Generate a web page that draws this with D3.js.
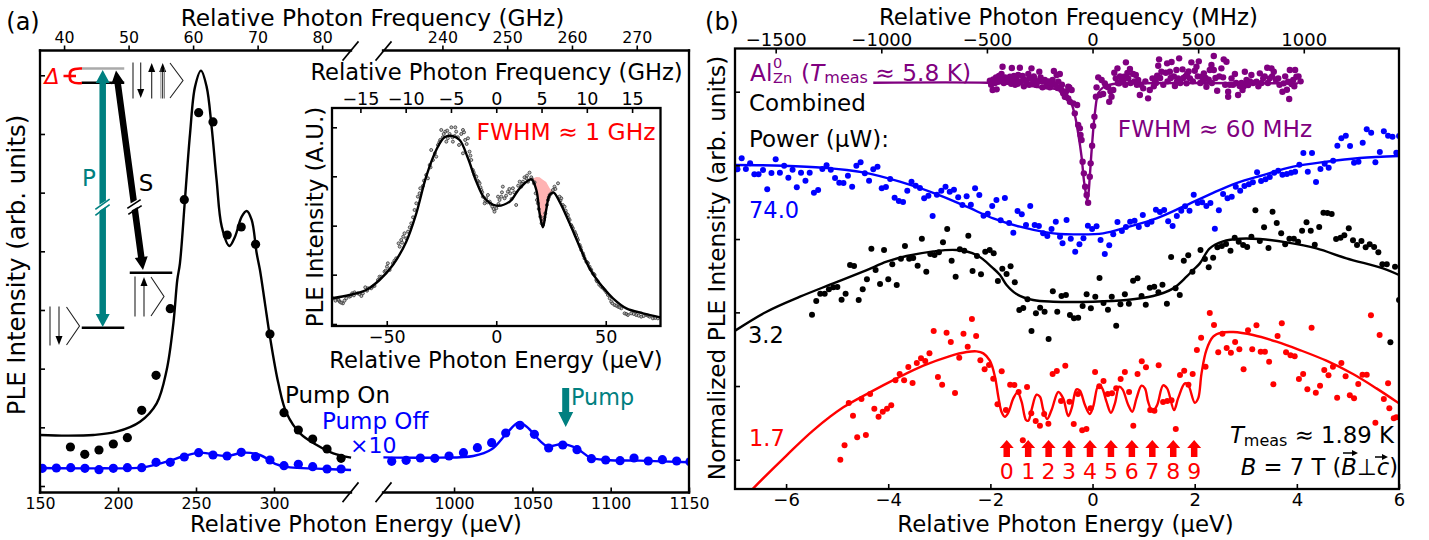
<!DOCTYPE html>
<html>
<head>
<meta charset="utf-8">
<script src="https://cdn.jsdelivr.net/npm/d3@7"></script>
<style>
  body { margin: 0; background: #fff; }
  text { font-family: "DejaVu Sans", sans-serif; fill: #000; }
</style>
</head>
<body>
<svg id="chart" width="1429" height="540"></svg>
<script>
// ueV per GHz
var hOverE = 4.1357;

// panel (a), energies in ueV, intensity in arb. units
var aTicksLeft = [150, 200, 250, 300];
var aTicksRight = [1000, 1050, 1100, 1150];
var aFreqLeft = [40, 50, 60, 70, 80];
var aFreqRight = [240, 250, 260, 270];
var aTicksY = [0, 176, 352, 528, 704, 880, 1056, 1232];
var pumpOnPoints = [[169.5,117],[178.7,95],[187.8,108],[197,126],[206,145],[215.2,227],[224.4,332],[233.5,532],[242.5,859],[251.7,1120],[260.9,1092],[270,753],[279,777],[288.2,725],[297.4,456],[306.4,220],[315.6,168],[324.8,141],[334,111],[343,83]];
var pumpOnCurve = [[150,153],[167.1,151],[184.2,153],[199.1,163],[214.1,193],[224.8,248],[231.2,348],[235.5,488],[238,618],[239.7,668],[242.9,858],[246.2,1058],[249.4,1198],[253.2,1246],[256.8,1198],[260,1078],[263.2,918],[266.5,778],[271.4,720],[275,748],[279.3,808],[282.5,825],[285.7,798],[288.9,698],[291,648],[294.2,548],[297.4,448],[302.8,308],[308.1,218],[316.7,158],[327.4,123],[338,98],[349.4,85]];
var pumpOffPointsLeft = [[151.5,53],[160.5,54],[169.7,55],[178.8,53],[187.8,49],[197,53],[206,55],[215.2,55],[224.4,71],[233.5,71],[242.5,87],[251.7,100],[260.9,93],[269.9,90],[279,101],[288.2,88],[297.4,78],[306.4,61],[315.6,65],[324.8,58],[334,51],[343,51]];
var pumpOffCurveLeft = [[150,54],[188.5,53],[216.2,56],[231.2,73],[242.5,90],[252.6,100],[269.7,90],[280.3,100],[291,93],[301.7,65],[310.3,56],[327.4,52],[349.4,48]];
var pumpOffPointsRight = [[960.2,74],[969.4,77],[978.5,84],[987.7,83],[996.8,90],[1006,100],[1014.9,115],[1024,130],[1033,159],[1042.1,182],[1051.3,155],[1060.4,114],[1069.4,123],[1078.5,109],[1087.7,82],[1096.8,78],[1106,76],[1114.9,84],[1124,75],[1133,79],[1142.1,75],[1150.6,73]];
var pumpOffCurveRight = [[954.9,86],[991,85],[1012.3,90],[1024,110],[1033.6,158],[1041.1,190],[1046.4,178],[1059.1,120],[1069.4,126],[1078.3,113],[1086.8,86],[1097.4,78],[1118.7,76],[1150.6,71]];

// inset of (a)
var inTicksX = [-50, 0, 50];
var inFreq = [-15, -10, -5, 0, 5, 10, 15];
var inTicksY = [0, 148, 295, 443, 590];
var inCurve = [[-75,77],[-67,87],[-59.4,102],[-53.3,132],[-47.2,177],[-41.1,247],[-36.5,332],[-32,442],[-27.4,522],[-23.6,560],[-20.1,564],[-16.7,552],[-12.9,497],[-9.1,427],[-5.3,377],[0,355],[6.1,367],[10.7,407],[16,434],[18.3,402],[19.8,332],[21.3,290],[22.8,342],[24.4,387],[26.2,394],[28.9,367],[33.5,302],[38.1,232],[42.6,167],[47.2,122],[53.3,77],[59.4,47],[67,32],[74.9,20]];
var inShadeE = [16, 18.3, 19.8, 21.3, 22.8, 24.4, 26.2];
var inShadeTop = [434, 441, 440, 433, 426, 407, 394];
var inShadeBottom = [434, 402, 332, 290, 342, 387, 394];
var inPoints = [[-74.6,77],[-73.4,70],[-72.3,74],[-71.5,67],[-70,62],[-69.3,70],[-68.5,77],[-67,82],[-65.8,92],[-64.7,95],[-63.2,92],[-61.6,84],[-60.9,92],[-59.8,110],[-58.6,107],[-57.1,107],[-55.6,114],[-54,132],[-53.3,142],[-52.5,142],[-51,157],[-49.9,172],[-49.5,182],[-48.7,162],[-47.2,182],[-45.7,197],[-44.6,242],[-44.1,232],[-43.4,252],[-41.9,272],[-41.1,257],[-40.3,277],[-38.8,302],[-37.3,342],[-36.5,362],[-35.8,382],[-34.7,407],[-33.5,414],[-32,447],[-31.2,437],[-30.4,477],[-29.7,522],[-28.9,492],[-27.4,502],[-26.6,537],[-25.6,552],[-25.1,582],[-24.4,560],[-23.3,577],[-22.8,547],[-22.1,557],[-21.3,570],[-20.5,590],[-19.8,547],[-19,564],[-18.3,577],[-17.5,560],[-17,537],[-15.2,582],[-14.2,552],[-12.9,557],[-15.2,512],[-12.2,517],[-11.4,492],[-10.7,462],[-9.9,447],[-9.1,442],[-8.1,427],[-7.6,422],[-6.8,402],[-6.1,382],[-5.3,362],[-4.6,377],[-3.8,387],[-3,367],[-1.8,352],[-0.8,337],[0,347],[0.8,382],[1.5,372],[2.3,382],[3,412],[3.8,377],[5.3,397],[6.4,392],[7.6,407],[9.1,357],[10.7,427],[11.4,412],[12.2,427],[13.7,437],[14.5,427],[15.2,454],[16.3,434],[17.2,422],[18,392],[18.6,372],[19,362],[20.1,322],[20.7,302],[21.3,297],[21.8,312],[22.4,332],[23.1,357],[23.6,372],[24.4,387],[25.1,392],[25.9,402],[26.6,412],[28.2,422],[28.9,382],[29.7,377],[30.4,357],[31.2,352],[32,332],[32.7,327],[33.5,312],[34.2,297],[35,287],[35.8,277],[36.5,267],[37.3,252],[38.1,237],[38.8,222],[39.6,212],[40.3,197],[41.1,187],[41.9,182],[42.6,172],[43.4,162],[44.1,152],[44.9,147],[45.7,132],[46.4,127],[47.9,112],[49.5,102],[51,87],[51.8,77],[52.5,67],[54,57],[55.6,52],[57.1,47],[58.6,32],[60.1,27],[61.6,32],[63.9,27],[66.2,22],[68.5,27],[70,22],[71.5,17],[73.8,17],
  [-72,72],[-70.8,64],[-66.5,84],[-65,86],[-62.5,90],[-59,100],[-56.5,112],[-50.5,160],[-46.5,190],[-43,244],[-42.5,262],[-39.5,290],[-38,320],[-35,392],[-33,430],[-30,470],[-28,512],[-26,545],[-24,570],[-22.4,580],[-20,560],[-18.7,590],[-16,570],[-14.7,575],[-13.5,540],[-11.8,505],[-10.3,455],[-8.6,430],[-7.2,410],[-6.4,395],[-5,370],[-4,365],[-2.5,360],[-1.2,345],[1,360],[2.6,395],[4.5,385],[6,405],[7,375],[8.2,395],[10,415],[11.8,420],[12.9,440],[14,445],[16,440],[17.5,425],[19.4,345],[22,320],[24,380],[27,405],[29.3,370],[31.7,340],[33,318],[34.6,292],[36,272],[37,258],[38.5,230],[39.9,205],[41.5,185],[43,165],[44.5,150],[46,128],[47,118],[48.7,108],[50.3,95],[53,62],[54.8,55],[56.3,50],[59.4,30],[62.8,30],[65,25],[67.3,24],[69.3,25],[72.6,18]];

// panel (b), frequency in MHz, intensity in arb. units
var bTicksE = [-6, -4, -2, 0, 2, 4, 6];
var bTicksF = [-1500, -1000, -500, 0, 500, 1000];
var bTicksY = [0, 221, 442, 662, 883, 1104];
var redPoints = [[-1194,0],[-1174,43],[-1154,170],[-1134,132],[-1114,67],[-1094,182],[-1073,74],[-1053,197],[-1033,153],[-1013,129],[-993,144],[-973,153],[-953,163],[-933,238],[-913,257],[-892,238],[-872,278],[-852,230],[-832,290],[-812,304],[-792,296],[-772,319],[-752,386],[-732,248],[-712,225],[-691,381],[-671,353],[-651,200],[-631,306],[-611,378],[-591,339],[-571,422],[-551,371],[-531,298],[-511,271],[-490,284],[-470,243],[-450,166],[-430,265],[-410,149],[-390,225],[-370,224],[-350,203],[-330,58],[-310,218],[-290,139],[-269,116],[-249,102],[-229,137],[-209,108],[-189,257],[-169,266],[-149,176],[-129,282],[-109,174],[-89,107],[-69,197],[-49,88],[-29,92],[-9,154],[12,263],[32,220],[52,236],[72,197],[92,199],[112,214],[133,242],[153,263],[173,203],[193,102],[213,257],[233,295],[253,277],[273,149],[293,147],[313,283],[334,173],[354,176],[374,178],[394,92],[414,254],[434,267],[454,225],[474,257],[494,329],[514,366],[535,279],[555,440],[575,404],[595,322],[615,378],[635,335],[655,321],[675,353],[695,331],[715,271],[736,388],[756,331],[776,403],[796,324],[816,324],[836,294],[856,226],[876,371],[896,409],[916,322],[937,313],[957,310],[977,242],[997,257],[1017,211],[1037,396],[1057,201],[1077,222],[1097,269],[1117,253],[1138,279],[1158,186],[1178,290],[1198,250],[1218,193],[1238,184],[1258,227],[1278,255],[1298,255],[1318,433],[1339,111],[1359,374],[1379,182],[1399,229],[1405,154],[1426,124],[1438,127]];
var redCurve = [[-1621,-96],[-1606,-86],[-1448,13],[-1322,88],[-1180,157],[-1054,202],[-927,244],[-801,282],[-675,311],[-596,323],[-549,325],[-517,319],[-486,297],[-462,249],[-446,189],[-431,144],[-415,129],[-399,141],[-375,184],[-355,202],[-336,174],[-315,119],[-304,117],[-289,149],[-265,195],[-249,189],[-233,149],[-215,122],[-194,149],[-162,203],[-139,184],[-115,131],[-99,154],[-76,211],[-60,207],[-36,164],[-13,137],[3,159],[27,221],[43,217],[66,174],[87,141],[106,169],[126,219],[142,211],[169,164],[188,144],[208,184],[232,222],[248,214],[263,174],[284,144],[306,164],[334,223],[353,214],[386,149],[405,184],[437,229],[453,224],[484,171],[500,184],[516,259],[539,329],[571,369],[610,381],[666,383],[760,374],[871,354],[981,329],[1107,297],[1233,257],[1344,214],[1451,169]];
var bluePoints = [[-1681,871],[-1661,904],[-1641,872],[-1621,889],[-1601,856],[-1581,856],[-1560,869],[-1540,811],[-1520,860],[-1500,901],[-1480,861],[-1460,882],[-1440,846],[-1420,870],[-1400,817],[-1380,861],[-1359,837],[-1339,861],[-1319,801],[-1299,809],[-1279,872],[-1259,883],[-1239,870],[-1219,845],[-1199,831],[-1179,830],[-1158,852],[-1138,819],[-1118,882],[-1098,892],[-1078,859],[-1058,837],[-1038,871],[-1018,879],[-998,814],[-978,818],[-958,842],[-937,786],[-917,776],[-897,773],[-877,807],[-857,834],[-837,822],[-817,815],[-797,784],[-777,792],[-757,731],[-737,795],[-716,807],[-696,819],[-676,804],[-656,810],[-636,787],[-616,764],[-596,790],[-576,765],[-556,814],[-536,794],[-516,732],[-496,738],[-475,761],[-455,779],[-435,718],[-415,785],[-395,710],[-375,681],[-355,746],[-335,736],[-315,704],[-295,761],[-274,704],[-254,701],[-234,679],[-214,671],[-194,692],[-174,714],[-154,669],[-142,649],[-123,719],[-103,663],[-82,624],[-62,646],[-43,664],[-22,702],[-2,692],[19,700],[38,659],[58,617],[79,643],[98,676],[118,713],[139,686],[158,698],[178,714],[199,717],[219,698],[238,734],[259,706],[279,714],[300,750],[319,743],[339,749],[358,715],[379,701],[399,731],[420,747],[438,760],[459,747],[479,795],[498,770],[519,772],[539,761],[558,770],[579,693],[598,748],[618,797],[639,784],[659,789],[678,819],[699,807],[719,821],[740,826],[759,832],[779,862],[798,836],[819,841],[839,848],[860,861],[879,867],[899,855],[920,857],[940,861],[959,864],[979,885],[998,920],[1019,864],[1039,920],[1058,833],[1079,872],[1099,888],[1118,876],[1139,897],[1159,942],[1178,964],[1199,972],[1219,941],[1238,891],[1259,894],[1279,951],[1298,991],[1319,981],[1339,892],[1360,923],[1379,985],[1399,972],[1420,969],[1438,921],[1451,971]];
var blueCurve = [[-1692,884],[-1464,882],[-1274,876],[-1085,862],[-912,834],[-738,797],[-596,759],[-470,724],[-344,699],[-218,682],[-155,677],[-76,676],[50,679],[161,697],[303,724],[429,759],[555,796],[681,830],[808,854],[950,879],[1107,894],[1265,905],[1451,911]];
var blackPoints = [[-1328,435],[-1308,476],[-1289,498],[-1268,498],[-1248,511],[-1227,517],[-1208,518],[-1188,480],[-1169,498],[-1148,584],[-1129,581],[-1107,479],[-1088,511],[-1068,541],[-1047,633],[-1027,569],[-1006,527],[-987,629],[-967,541],[-948,586],[-927,524],[-907,603],[-888,641],[-868,603],[-849,605],[-828,582],[-808,663],[-787,564],[-768,617],[-748,614],[-727,622],[-708,652],[-688,692],[-667,597],[-648,549],[-628,631],[-607,627],[-588,672],[-568,566],[-547,611],[-528,556],[-508,624],[-487,629],[-468,619],[-448,536],[-427,573],[-407,557],[-388,580],[-368,532],[-347,449],[-328,455],[-308,481],[-289,386],[-268,439],[-248,456],[-227,444],[-208,362],[-188,505],[-167,444],[-147,491],[-126,494],[-107,434],[-88,424],[-68,426],[-47,461],[-28,496],[-8,454],[13,489],[33,545],[52,470],[73,450],[91,489],[112,402],[132,466],[153,496],[172,468],[192,537],[213,544],[232,491],[252,465],[271,516],[292,519],[312,502],[331,525],[352,468],[372,608],[393,514],[413,494],[432,597],[453,613],[473,564],[511,629],[532,602],[550,577],[571,606],[591,637],[612,641],[632,647],[653,627],[673,666],[692,654],[713,644],[732,638],[752,669],[771,748],[792,656],[812,697],[833,635],[852,744],[872,710],[893,679],[912,646],[932,663],[953,663],[973,654],[992,687],[1013,712],[1033,687],[1052,645],[1073,698],[1093,741],[1112,740],[1132,737],[1153,662],[1174,666],[1192,673],[1213,694],[1233,658],[1252,644],[1273,656],[1293,637],[1312,646],[1333,638],[1353,622],[1372,586],[1393,586],[1410,352],[1432,579],[1451,479]];
var blackCurve = [[-1692,387],[-1543,444],[-1385,489],[-1227,529],[-1069,569],[-975,594],[-880,611],[-754,625],[-644,629],[-549,614],[-470,574],[-438,554],[-407,524],[-360,497],[-281,479],[-186,474],[3,474],[161,479],[287,491],[382,514],[445,549],[476,569],[508,589],[555,634],[618,655],[697,663],[792,662],[918,652],[1060,634],[1202,604],[1375,574],[1451,554]];
var purplePoints = [[-473,1109],[-454,1111],[-486,1137],[-470,1141],[-457,1147],[-443,1151],[-426,1179],[-431,1157],[-415,1147],[-404,1134],[-382,1175],[-391,1149],[-372,1151],[-352,1154],[-344,1176],[-360,1139],[-331,1151],[-320,1139],[-304,1157],[-289,1174],[-297,1144],[-273,1139],[-265,1124],[-252,1164],[-246,1147],[-237,1117],[-226,1139],[-215,1129],[-202,1117],[-183,1166],[-189,1139],[-170,1154],[-162,1134],[-155,1114],[-139,1099],[-126,1089],[-115,1119],[-107,1074],[-155,1157],[-147,1109],[-131,1089],[-110,1117],[-99,1109],[-115,1084],[-91,1069],[-84,1039],[-73,1064],[-68,1004],[-60,994],[-57,974],[-52,959],[-47,894],[-41,859],[-35,819],[-28,794],[-21,771],[-13,849],[-9,889],[-2,942],[3,1001],[9,1029],[16,1089],[19,1117],[27,1147],[43,1139],[35,1094],[58,1129],[50,1097],[74,1117],[79,1074],[90,1089],[98,1109],[103,1161],[118,1174],[110,1144],[126,1129],[137,1139],[158,1192],[148,1149],[177,1172],[169,1144],[192,1157],[205,1154],[216,1139],[224,1094],[240,1114],[263,1084],[271,1109],[284,1144],[295,1139],[306,1152],[315,1201],[311,1182],[326,1164],[347,1161],[353,1189],[374,1193],[366,1164],[390,1121],[397,1169],[410,1204],[405,1144],[426,1171],[445,1129],[448,1157],[461,1144],[468,1192],[484,1167],[492,1179],[503,1195],[516,1149],[527,1159],[539,1119],[563,1184],[574,1211],[555,1169],[574,1169],[590,1107],[610,1174],[621,1201],[634,1194],[618,1147],[642,1089],[642,1104],[658,1144],[674,1157],[689,1094],[697,1121],[710,1109],[721,1164],[729,1139],[737,1124],[752,1154],[776,1134],[792,1159],[808,1144],[827,1176],[847,1174],[858,1164],[839,1144],[879,1144],[899,1104],[905,1129],[931,1082],[934,1169],[926,1134],[942,1127],[959,1169],[965,1149],[950,1139],
  [-480,1125],[-462,1130],[-448,1134],[-438,1140],[-420,1130],[-410,1145],[-398,1140],[-385,1128],[-376,1140],[-366,1125],[-355,1128],[-340,1135],[-325,1120],[-312,1130],[-300,1125],[-285,1128],[-278,1150],[-258,1135],[-240,1135],[-220,1120],[-208,1135],[-195,1125],[-178,1125],[-165,1115],[-145,1125],[-125,1105],
  [65,1120],[85,1105],[120,1130],[130,1150],[145,1135],[155,1125],[165,1160],[180,1130],[198,1135],[210,1125],[230,1125],[250,1135],[290,1120],[300,1130],[320,1145],[335,1125],[355,1135],[370,1145],[385,1150],[400,1135],[415,1130],[430,1145],[440,1150],[455,1165],[475,1135],[498,1150],[510,1130],[522,1135],[535,1145],[550,1140],[565,1130],[582,1145],[600,1150],[628,1125],[650,1125],[665,1125],[680,1130],[705,1130],[716,1120],[745,1135],[760,1130],[785,1120],[800,1130],[815,1150],[830,1130],[850,1150],[868,1140],[885,1125],[912,1150],[920,1110],[955,1120],[975,1150],[985,1135]];
var purpleCurve = [[-1038,1131],[-500,1131],[-350,1127],[-250,1117],[-155,1109],[-107,1079],[-84,1034],[-68,979],[-52,909],[-41,839],[-32,800],[-25,778],[-19,800],[-13,849],[-3,939],[11,1039],[27,1099],[50,1117],[98,1127],[161,1129],[973,1129]];
var arrowE = [-1.68, -1.26, -0.86, -0.46, -0.05, 0.36, 0.77, 1.17, 1.58, 1.99];
var arrowLabels = ["0", "1", "2", "3", "4", "5", "6", "7", "8", "9"];

var teal = "#008080", purple = "#800080";
var svg = d3.select("#chart");
var defs = svg.append("defs");
var smooth = d3.curveCatmullRom.alpha(0.5);

function clip(id, x, y, w, h) {
  defs.append("clipPath").attr("id", id).append("rect")
    .attr("x", x).attr("y", y).attr("width", w).attr("height", h);
  return svg.append("g").attr("clip-path", "url(#" + id + ")");
}
function dots(g, data, x, y, r, color) {
  g.selectAll(null).data(data).enter().append("circle")
    .attr("cx", d => x(d[0])).attr("cy", d => y(d[1])).attr("r", r).attr("fill", color);
}
function curve(g, data, x, y, color, w) {
  var line = d3.line().x(d => x(d[0])).y(d => y(d[1])).curve(smooth);
  g.append("path").attr("d", line(data)).attr("fill", "none").attr("stroke", color).attr("stroke-width", w);
}
function label(s, x, y, size, color, anchor, rot) {
  var t = svg.append("text").attr("x", x).attr("y", y).attr("font-size", size)
    .attr("dominant-baseline", "central").attr("text-anchor", anchor || "middle").style("fill", color || "#000").text(s);
  if (rot) t.attr("transform", "rotate(" + rot + " " + x + " " + y + ")");
  return t;
}
function seg(x1, y1, x2, y2, color, w) {
  svg.append("line").attr("x1", x1).attr("y1", y1).attr("x2", x2).attr("y2", y2)
    .attr("stroke", color || "#000").attr("stroke-width", w || 2.3).attr("stroke-linecap", "square");
}
function axis(a, x, y, ticks, fmt, size, pad, font) {
  var minus = d => String(d).replace("-", "\u2212");
  a.tickValues(ticks).tickSize(size).tickPadding(pad).tickFormat(fmt === "" ? "" : minus);
  var g = svg.append("g").attr("transform", "translate(" + x + "," + y + ")").call(a);
  g.select(".domain").remove();
  g.selectAll("line").attr("stroke", "#000").attr("stroke-width", 1.6);
  g.selectAll("text").attr("font-size", font).attr("font-family", "DejaVu Sans");
  return g;
}
// solid block arrow, from x1,y1 to x2,y2 with a head at the end (and at the start if both)
function block(x1, y1, x2, y2, sw, hw, hl, color, both) {
  var dx = x2 - x1, dy = y2 - y1, len = Math.sqrt(dx * dx + dy * dy), ux = dx / len, uy = dy / len, nx = -uy, ny = ux;
  var at = (s, n) => [x1 + ux * s + nx * n, y1 + uy * s + ny * n];
  var pts = both
    ? [at(0,0), at(hl,hw/2), at(hl,sw/2), at(len-hl,sw/2), at(len-hl,hw/2), at(len,0), at(len-hl,-hw/2), at(len-hl,-sw/2), at(hl,-sw/2), at(hl,-hw/2)]
    : [at(0,sw/2), at(len-hl,sw/2), at(len-hl,hw/2), at(len,0), at(len-hl,-hw/2), at(len-hl,-sw/2), at(0,-sw/2)];
  svg.append("polygon").attr("points", pts.map(q => q.join(",")).join(" ")).attr("fill", color);
}

// ---------- panel (a)
var xL = d3.scaleLinear().domain([150, 350]).range([40, 352]);
var xR = d3.scaleLinear().domain([954, 1150]).range([382, 689]);
var yA = d3.scaleLinear().domain([0, 1232]).range([486, 75.3]);
var fL = d3.scaleLinear().domain([150 / hOverE, 350 / hOverE]).range(xL.range());
var fR = d3.scaleLinear().domain([954 / hOverE, 1150 / hOverE]).range(xR.range());

var left = clip("cl", 40, 51, 312, 441);
curve(left, pumpOnCurve, xL, yA, "#000", 2.4);
dots(left, pumpOnPoints, xL, yA, 4.6, "#000");
curve(left, pumpOffCurveLeft, xL, yA, "#0000ff", 2.4);
dots(left, pumpOffPointsLeft, xL, yA, 4.6, "#0000ff");
var right = clip("cr", 382, 51, 307, 441);
curve(right, pumpOffCurveRight, xR, yA, "#0000ff", 2.4);
dots(right, pumpOffPointsRight, xR, yA, 4.6, "#0000ff");

axis(d3.axisBottom(xL), 0, 492.5, aTicksLeft, null, -5, 5, 15.8);
axis(d3.axisBottom(xR), 0, 492.5, aTicksRight, null, -5, 5, 15.8);
axis(d3.axisTop(fL), 0, 50.5, aFreqLeft, null, 5, 3, 15.8);
axis(d3.axisTop(fR), 0, 50.5, aFreqRight, null, 5, 3, 15.8);
axis(d3.axisLeft(yA), 40, 0, aTicksY, "", -5, 0, 1);
seg(40, 50.5, 40, 492.5);
seg(40, 50.5, 351, 50.5);
seg(383, 50.5, 689, 50.5);
seg(40, 492.5, 351, 492.5);
seg(383, 492.5, 689, 492.5);
seg(689, 50.5, 689, 492.5);
seg(343, 60, 358, 42, "#000", 1.6);
seg(376, 60, 391, 42, "#000", 1.6);
seg(343, 501.5, 358, 483, "#000", 1.6);
seg(376, 501.5, 391, 483, "#000", 1.6);

label("(a)", 23, 22, 24);
label("Relative Photon Frequency (GHz)", 372.5, 17, 23.3);
label("Relative Photon Energy (\u03bceV)", 356, 524, 22.6);
label("PLE Intensity (arb. units)", 16, 265, 24.4, "#000", "middle", -90);

// level scheme
seg(83, 68.5, 123, 68.5, "#aaaaaa", 2.5);
seg(83, 82.7, 123, 82.7, "#000", 2.5);
seg(83, 327.7, 123, 327.7, "#000", 2.5);
seg(131, 272.7, 171, 272.7, "#000", 2.5);
block(102.7, 70, 102.7, 327, 6.5, 14, 13, teal, true);
block(116, 70.5, 143, 270, 6.5, 13, 13, "#000", true);
// breaks in the two transitions
svg.append("polygon").attr("points", "94,208 112,197 112,203 94,214").attr("fill", "#fff");
seg(96, 209, 109, 199.5, teal, 1.6);
seg(96, 215, 109, 205, teal, 1.6);
svg.append("polygon").attr("points", "126,206 142,197 143,204 127,213").attr("fill", "#fff");
seg(128, 208, 140, 200, "#000", 1.6);
seg(129, 214, 141, 206, "#000", 1.6);
label("P", 89, 178, 23, teal);
label("S", 146, 183, 23, "#000");
label("\u0394", 52, 76, 22, "#ff0000").style("font-style", "italic");
svg.append("path").attr("d", "M82,68.5 C72,68 69,71 70,76 C69,81 72,84 82,83 M63.5,76 L76,76")
  .attr("fill", "none").attr("stroke", "#ff0000").attr("stroke-width", 2.6);

// kets
function ket(bar, top, bottom, tipX) {
  seg(bar, top, bar, bottom, "#222", 1.1);
  svg.append("polyline").attr("points", [[tipX - 13, top], [tipX, (top + bottom) / 2], [tipX - 13, bottom]].map(q => q.join(",")).join(" "))
    .attr("fill", "none").attr("stroke", "#222").attr("stroke-width", 1.1);
}
function spin(x, from, to, w) {
  var dir = to > from ? 1 : -1;
  seg(x, from, x, to - dir * 6, "#222", w);
  svg.append("polygon").attr("points", [[x - 3.5, to - dir * 9], [x + 3.5, to - dir * 9], [x, to]].map(q => q.join(",")).join(" ")).attr("fill", "#000");
}
ket(133, 63, 98, 183);
spin(140.7, 63, 98, 1.1);
spin(151.7, 98, 63, 1.1);
spin(162.7, 98, 63, 1.1);
seg(160.9, 98, 160.9, 69, "#666", 0.8);
seg(164.5, 98, 164.5, 69, "#666", 0.8);
ket(50, 307, 345, 79.5);
spin(59, 307, 345, 1.1);
ket(135, 277, 316, 164);
spin(144, 316, 277, 1.1);

label("Pump On", 285, 395, 23, "#000", "start");
label("Pump Off", 322, 420.5, 23, "#0000ff", "start");
label("\u00d710", 350, 445, 22, "#0000ff", "start");
label("Pump", 571, 397, 22.3, teal, "start");
block(565.7, 388, 565.7, 427, 7, 15, 15, teal, false);

// ---------- inset of (a)
var xI = d3.scaleLinear().domain([-75, 75]).range([332, 660.5]);
var fI = d3.scaleLinear().domain([-75 / hOverE, 75 / hOverE]).range(xI.range());
var yI = d3.scaleLinear().domain([0, 590]).range([324, 127.3]);
svg.append("rect").attr("x", 332).attr("y", 108).attr("width", 328.5).attr("height", 218).attr("fill", "#fff");
var inset = clip("ci", 332, 108, 328.5, 218);
var area = d3.area().x(d => xI(d[0])).y0(d => yI(d[1])).y1(d => yI(d[2]));
inset.append("path").attr("d", area(inShadeE.map((e, i) => [e, inShadeBottom[i], inShadeTop[i]]))).attr("fill", "#ffb3b3");
inset.selectAll(null).data(inPoints).enter().append("circle")
  .attr("cx", d => xI(d[0])).attr("cy", d => yI(d[1])).attr("r", 1.5)
  .attr("fill", "#999").attr("fill-opacity", 0.6).attr("stroke", "#333").attr("stroke-width", 0.8);
curve(inset, inCurve, xI, yI, "#000", 2.4);
axis(d3.axisBottom(xI), 0, 326, inTicksX, null, -5, 5, 17.5);
axis(d3.axisTop(fI), 0, 108, inFreq, null, -5, 3, 17.5);
axis(d3.axisLeft(yI), 332, 0, inTicksY, "", -5, 0, 1);
svg.append("rect").attr("x", 332).attr("y", 108).attr("width", 328.5).attr("height", 218).attr("fill", "none").attr("stroke", "#000").attr("stroke-width", 2.3);
label("Relative Photon Frequency (GHz)", 496.5, 72, 22.6);
label("Relative Photon Energy (\u03bceV)", 496, 360, 22.7);
label("PLE Intensity (A.U.)", 315, 217, 23, "#000", "middle", -90);
label("FWHM \u2248 1 GHz", 566, 132, 23.4, "#ff0000");

// ---------- panel (b)
var xB = d3.scaleLinear().domain([-7, 6]).range([735, 1399]);
var fB = d3.scaleLinear().domain([-7000 / hOverE, 6000 / hOverE]).range(xB.range());
var yB = d3.scaleLinear().domain([0, 1104]).range([459.7, 91.7]);

var plot = clip("cb", 735, 49, 664, 440);
dots(plot, purplePoints, fB, yB, 3.2, purple);
curve(plot, purpleCurve, fB, yB, purple, 2.4);
dots(plot, bluePoints, fB, yB, 3, "#0000ff");
curve(plot, blueCurve, fB, yB, "#0000ff", 2.4);
dots(plot, blackPoints, fB, yB, 3, "#000");
curve(plot, blackCurve, fB, yB, "#000", 2.4);
dots(plot, redPoints, fB, yB, 3, "#ff0000");
curve(plot, redCurve, fB, yB, "#ff0000", 2.4);

axis(d3.axisBottom(xB), 0, 489, bTicksE, null, -5, 4, 18);
axis(d3.axisTop(fB), 0, 48.5, bTicksF, null, -5, 3, 18);
axis(d3.axisLeft(yB), 735, 0, bTicksY, "", -5, 0, 1);
svg.append("rect").attr("x", 735).attr("y", 48.5).attr("width", 664).attr("height", 440.5).attr("fill", "none").attr("stroke", "#000").attr("stroke-width", 2.3);

label("(b)", 722, 22, 24);
label("Relative Photon Frequency (MHz)", 1068.5, 17, 22.9);
label("Relative Photon Energy (\u03bceV)", 1065.5, 524, 22.9);
label("Normalized PLE Intensity (arb. units)", 716, 268, 23.2, "#000", "middle", -90);

// purple tag
label("Al", 750, 72, 23.3, purple, "start");
label("0", 773, 63, 14.5, purple, "start");
label("Zn", 773, 78, 14.5, purple, "start");
var tag = label("(", 801, 72, 23.3, purple, "start");
tag.append("tspan").style("font-style", "italic").text("T");
tag.append("tspan").attr("font-size", 16).attr("dy", 5).text("meas");
tag.append("tspan").attr("dy", -5).text(" \u2248 5.8 K)");
label("Combined", 749, 103, 23, "#000", "start");
label("Power (\u03bcW):", 749, 139, 23, "#000", "start");
label("FWHM \u2248 60 MHz", 1215, 128, 23.2, purple);
label("74.0", 749, 210, 22.5, "#0000ff", "start");
label("3.2", 748, 335, 22.5, "#000", "start");
label("1.7", 749, 438, 22.5, "#ff0000", "start");

var tm = label("", 1394, 435, 22.8, "#000", "end");
tm.append("tspan").style("font-style", "italic").text("T");
tm.append("tspan").attr("font-size", 16).attr("dy", 5).text("meas");
tm.append("tspan").attr("dy", -5).text(" \u2248 1.89 K");
var bf = label("", 1398, 467, 22.7, "#000", "end");
bf.append("tspan").style("font-style", "italic").text("B");
bf.append("tspan").text(" = 7 T (");
bf.append("tspan").style("font-style", "italic").text("B");
bf.append("tspan").text("\u22a5");
bf.append("tspan").style("font-style", "italic").text("c");
bf.append("tspan").text(")");
block(1343, 453, 1358, 453, 1.4, 6, 6, "#000", false);
block(1375, 457, 1388, 457, 1.4, 6, 6, "#000", false);

arrowE.forEach(function (e, i) {
  block(xB(e), yB(8), xB(e), yB(59), 6.5, 14, 8, "#ff0000", false);
  label(arrowLabels[i], xB(e), 471, 22, "#ff0000");
});
</script>
</body>
</html>
